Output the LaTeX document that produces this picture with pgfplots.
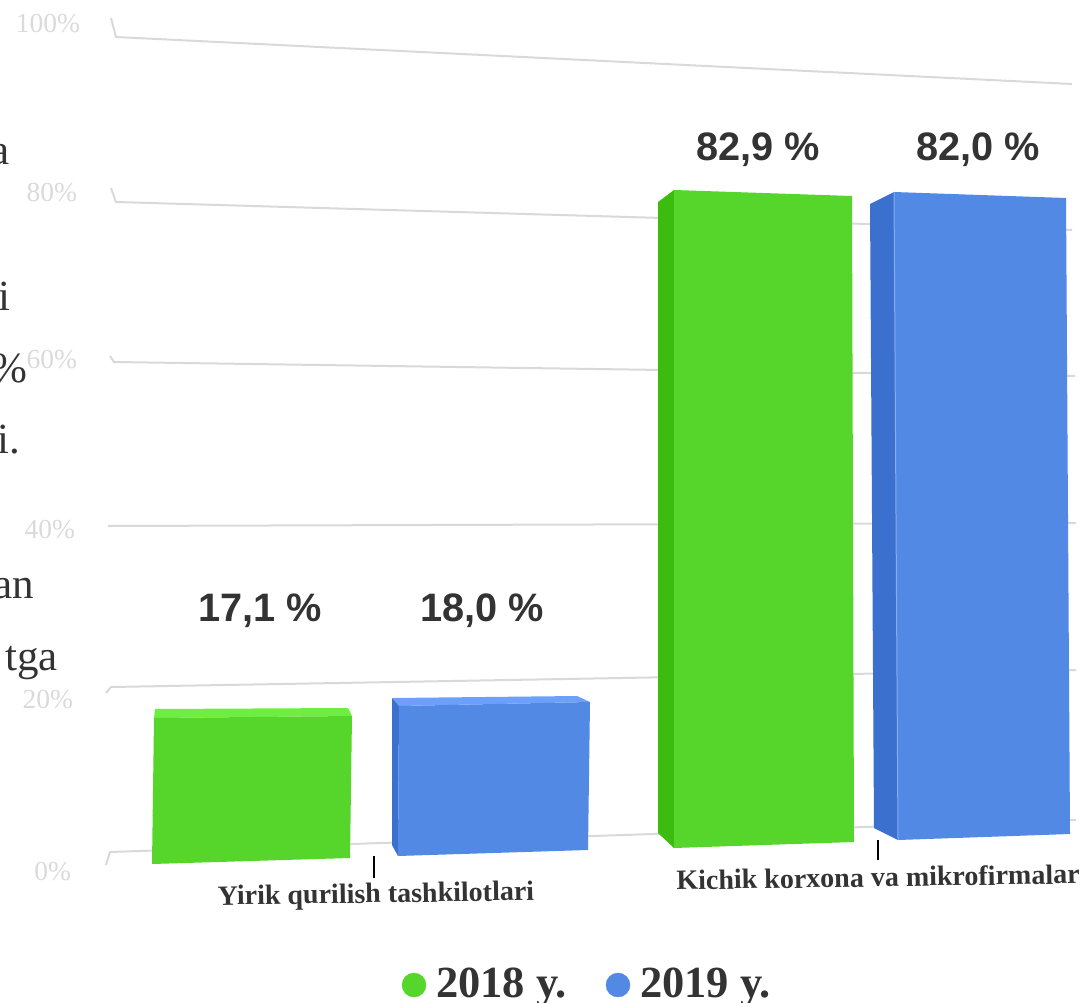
\documentclass[border=0pt]{standalone}
\usepackage{fontspec}
\setmainfont{Liberation Serif}
\newfontfamily\arial{Liberation Sans}
\usepackage{pgfplots}
\pgfplotsset{compat=1.18}
\definecolor{gfront}{HTML}{56D62A}
\definecolor{gside}{HTML}{3CBC0E}
\definecolor{gtop}{HTML}{6EEE42}
\definecolor{bfront}{HTML}{5289E5}
\definecolor{bside}{HTML}{3B70CE}
\definecolor{btop}{HTML}{6CA0FA}
\definecolor{bedge}{HTML}{86ADEE}
\definecolor{gridc}{HTML}{D9D9D9}
\definecolor{tickc}{HTML}{DADADA}
\definecolor{ink}{HTML}{333333}
\newcommand{\fs}[1]{\fontsize{#1}{#1}\selectfont}
\tikzset{
  grid line/.style={draw=gridc, line width=2pt},
  every node/.style={inner sep=0pt, outer sep=0pt},
  tick text/.style={anchor=base east, text=tickc, font=\fs{27.5}},
  body text/.style={anchor=base east, text=ink, font=\fs{43}},
  value text/.style={anchor=base, text=ink, font=\arial\bfseries\fs{39.7}},
  cat text/.style={anchor=center, text=ink, font=\bfseries\fs{28}, rotate=0.9},
  legend text/.style={anchor=base west, text=ink, font=\bfseries\fs{44.5}},
}
\begin{document}
\begin{tikzpicture}
\useasboundingbox (0,0) rectangle (1089pt,1003pt);
\clip (0,0) rectangle (1089pt,1003pt);
\begin{axis}[
  hide axis,
  scale only axis,
  width=1089pt, height=1003pt,
  xmin=0, xmax=1089, ymin=0, ymax=1003,
  y dir=reverse,
  clip=false,
]
% gridlines, bent at the back wall
\addplot[grid line] coordinates {(111,18) (116,37) (1072,84)};
\addplot[grid line] coordinates {(111,188) (116,202) (1072,230)};
\addplot[grid line] coordinates {(110,356) (114,362) (1075,376)};
\addplot[grid line] coordinates {(108,526) (1076,523)};
\addplot[grid line] coordinates {(106,693) (111,687) (1076,670)};
\addplot[grid line] coordinates {(106,865) (110,852) (1076,820)};
% ticks under the groups
\addplot[black, line width=2pt] coordinates {(374,856) (374,878)};
\addplot[black, line width=2pt] coordinates {(878,840) (878,860)};
% 2018, first group
\addplot[fill=gtop, draw=none] coordinates {(155,709) (348,708) (352,716) (154,718)} --cycle;
\addplot[fill=gfront, draw=none] coordinates {(154,718) (352,716) (350,858) (152,864)} --cycle;
% 2019, first group
\addplot[fill=btop, draw=none] coordinates {(392,698) (577,696) (590,702) (399,706)} --cycle;
\addplot[fill=bside, draw=none] coordinates {(392,698) (399,706) (398,856) (392,845)} --cycle;
\addplot[fill=bfront, draw=none] coordinates {(399,706) (590,702) (588,850) (398,856)} --cycle;
% 2018, second group
\addplot[fill=gside, draw=none] coordinates {(658,202) (674,190) (674,848) (658,833)} --cycle;
\addplot[fill=gfront, draw=none] coordinates {(674,190) (852,196) (854,842) (674,848)} --cycle;
% 2019, second group
\addplot[fill=bside, draw=none] coordinates {(870,204) (894,192) (898,840) (874,828)} --cycle;
\addplot[fill=bfront, draw=none] coordinates {(894,192) (1066,198) (1070,834) (898,840)} --cycle;
\addplot[bedge, line width=1pt] coordinates {(894,192) (898,840)};
% legend markers
\addplot[only marks, mark=*, mark size=12pt, color=gfront] coordinates {(414,985)};
\addplot[only marks, mark=*, mark size=12pt, color=bfront] coordinates {(618,985)};
% axis labels
\node[tick text] at (axis cs:80,33) {100\%};
\node[tick text] at (axis cs:77,201) {80\%};
\node[tick text] at (axis cs:77,368) {60\%};
\node[tick text] at (axis cs:75,538) {40\%};
\node[tick text] at (axis cs:73,708) {20\%};
\node[tick text] at (axis cs:71,880) {0\%};
% values
\node[value text] at (axis cs:260,621) {17,1 \%};
\node[value text] at (axis cs:482,621) {18,0 \%};
\node[value text] at (axis cs:758,161) {82,9 \%};
\node[value text] at (axis cs:978,161) {82,0 \%};
% categories
\node[cat text] at (axis cs:376,896) {Yirik qurilish tashkilotlari};
\node[cat text] at (axis cs:878,877) {Kichik korxona va mikrofirmalar};
% legend
\node[legend text] at (axis cs:436,997) {2018 y.};
\node[legend text] at (axis cs:640,997) {2019 y.};
% cut-off body text at the left edge
\node[body text] at (axis cs:10,165) {a};
\node[body text] at (axis cs:10,310) {i};
\node[body text] at (axis cs:27,382) {\%};
\node[body text] at (axis cs:20,453) {i.};
\node[body text] at (axis cs:34,598) {an};
\node[body text] at (axis cs:58,670) {tga};
\end{axis}
\end{tikzpicture}
\end{document}
